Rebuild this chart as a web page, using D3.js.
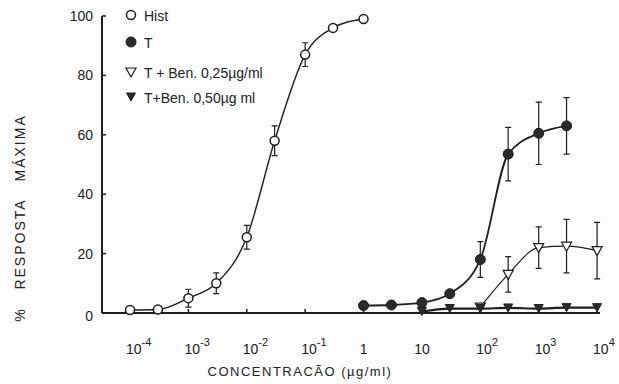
<!DOCTYPE html>
<html>
<head>
<meta charset="utf-8">
<script src="https://cdn.jsdelivr.net/npm/d3@7"></script>
<style>
  html, body { margin: 0; padding: 0; background: #fdfdfd; }
  svg { display: block; }
  text { font-family: "Liberation Sans", "DejaVu Sans", sans-serif; fill: #222; }
</style>
</head>
<body>
<svg id="chart" width="619" height="384"></svg>
<script>
// Dose-response data: [concentration µg/ml, % response, error]
const histData = [
  [1e-4, 1, 0], [3e-4, 1.2, 0], [1e-3, 5, 3], [3e-3, 10, 3.5],
  [1e-2, 25.5, 4], [3e-2, 58, 5], [1e-1, 87, 4], [0.3, 96, 1], [1, 99, 0],
];
const tData = [
  [1, 2.5, 0], [3, 2.7, 0], [10, 3.5, 0], [30, 6.5, 0],
  [100, 18, 6], [300, 53.5, 9], [1000, 60.5, 10.5], [3000, 63, 9.5],
];
const ben25Data = [
  [100, 2, 0], [300, 13, 6], [1000, 22, 7], [3000, 22.5, 9], [10000, 21, 9.5],
];
const ben50Data = [
  [10, 0.5, 0], [30, 1.5, 0], [100, 1.5, 0], [300, 1.7, 0],
  [1000, 1.5, 0], [3000, 1.8, 0], [10000, 1.8, 0],
];
const xTicks = [
  [1e-4, "10", "-4"], [1e-3, "10", "-3"], [1e-2, "10", "-2"], [1e-1, "10", "-1"],
  [1, "1", ""], [10, "10", ""], [100, "10", "2"], [1000, "10", "3"], [10000, "10", "4"],
];
const yTicks = [0, 20, 40, 60, 80, 100];
const legendItems = [
  ["open-circle", "Hist"],
  ["filled-circle", "T"],
  ["open-tri", "T + Ben. 0,25µg/ml"],
  ["filled-tri", "T+Ben. 0,50µg ml"],
];

const ink = "#1e1e1e";
const svg = d3.select("#chart");

const x = d3.scaleLog().domain([Math.pow(10, -4.48), Math.pow(10, 4.05)]).range([102, 600]);
const y = d3.scaleLinear().domain([0, 100]).range([313, 16]);

// axes
svg.append("line").attr("x1", x.range()[0]).attr("x2", x.range()[1])
  .attr("y1", y(0)).attr("y2", y(0)).attr("stroke", ink).attr("stroke-width", 2);
svg.append("line").attr("x1", x.range()[0]).attr("x2", x.range()[0])
  .attr("y1", y(0)).attr("y2", y(100)).attr("stroke", ink).attr("stroke-width", 2);

svg.selectAll(".ytick").data(yTicks).join("line")
  .attr("x1", 102).attr("x2", 106)
  .attr("y1", d => y(d)).attr("y2", d => y(d))
  .attr("stroke", ink).attr("stroke-width", 1.5);
svg.selectAll(".ylab").data(yTicks).join("text")
  .attr("x", 93).attr("y", d => y(d) + 5 + (d === 0 ? 3 : 0))
  .attr("text-anchor", "end").attr("font-size", 14)
  .text(d => d);

svg.selectAll(".xtick").data(xTicks).join("line")
  .attr("x1", d => x(d[0])).attr("x2", d => x(d[0]))
  .attr("y1", y(0)).attr("y2", y(0) - 4)
  .attr("stroke", ink).attr("stroke-width", 1.5);
const xl = svg.selectAll(".xlab").data(xTicks).join("text")
  .attr("y", 354).attr("font-size", 14);
xl.each(function (d) {
  const t = d3.select(this);
  if (d[2]) {
    t.attr("x", x(d[0]) - 4).attr("text-anchor", "start");
    t.append("tspan").text(d[1]);
    t.append("tspan").attr("dy", -8).attr("font-size", 11).text(d[2]);
  } else {
    t.attr("x", x(d[0])).attr("text-anchor", "middle").text(d[1]);
  }
});

svg.append("text").attr("x", 300).attr("y", 376).attr("text-anchor", "middle")
  .attr("font-size", 13).attr("letter-spacing", 1.5)
  .text("CONCENTRACÃO (µg/ml)");
svg.append("text").attr("transform", "translate(25,218) rotate(-90)")
  .attr("text-anchor", "middle").attr("font-size", 14).attr("letter-spacing", 2)
  .attr("xml:space", "preserve")
  .text("%   RESPOSTA   MÁXIMA");

// curves
const line = d3.line().x(d => x(d[0])).y(d => y(d[1])).curve(d3.curveMonotoneX);
const series = [
  [histData, "open-circle", 1.4],
  [tData, "filled-circle", 1.8],
  [ben25Data, "open-tri", 1.2],
  [ben50Data, "filled-tri", 2.2],
];

series.forEach(([data, kind, w]) => {
  svg.append("path").datum(data).attr("d", line)
    .attr("fill", "none").attr("stroke", ink).attr("stroke-width", w);
  const eb = data.filter(d => d[2] > 0);
  svg.append("g").selectAll("path").data(eb).join("path")
    .attr("d", d => {
      const cx = x(d[0]), t = y(d[1] + d[2]), b = y(d[1] - d[2]);
      return `M${cx},${t}V${b}M${cx - 3},${t}H${cx + 3}M${cx - 3},${b}H${cx + 3}`;
    })
    .attr("stroke", ink).attr("stroke-width", 1.2).attr("fill", "none");
});

function drawMarker(g, kind, cx, cy) {
  if (kind === "open-circle") {
    g.append("circle").attr("cx", cx).attr("cy", cy).attr("r", 4.5)
      .attr("fill", "#fdfdfd").attr("stroke", ink).attr("stroke-width", 1.5);
  } else if (kind === "filled-circle") {
    g.append("circle").attr("cx", cx).attr("cy", cy).attr("r", 5)
      .attr("fill", "#2a2a2a").attr("stroke", ink).attr("stroke-width", 1);
  } else if (kind === "open-tri") {
    g.append("path").attr("d", `M${cx - 5},${cy - 4}L${cx + 5},${cy - 4}L${cx},${cy + 5}Z`)
      .attr("fill", "#fdfdfd").attr("stroke", ink).attr("stroke-width", 1.2);
  } else {
    g.append("path").attr("d", `M${cx - 4.5},${cy - 4}L${cx + 4.5},${cy - 4}L${cx},${cy + 4}Z`)
      .attr("fill", "#2a2a2a").attr("stroke", ink).attr("stroke-width", 1);
  }
}

series.forEach(([data, kind]) => {
  const g = svg.append("g");
  data.forEach(d => drawMarker(g, kind, x(d[0]), y(d[1])));
});

// legend
const lg = svg.append("g");
legendItems.forEach(([kind, label], i) => {
  const ly = [16, 43, 73, 98][i];
  drawMarker(lg, kind, 131, ly - 1);
  lg.append("text").attr("x", 144).attr("y", ly + 5).attr("font-size", 14).text(label);
});
</script>
</body>
</html>
